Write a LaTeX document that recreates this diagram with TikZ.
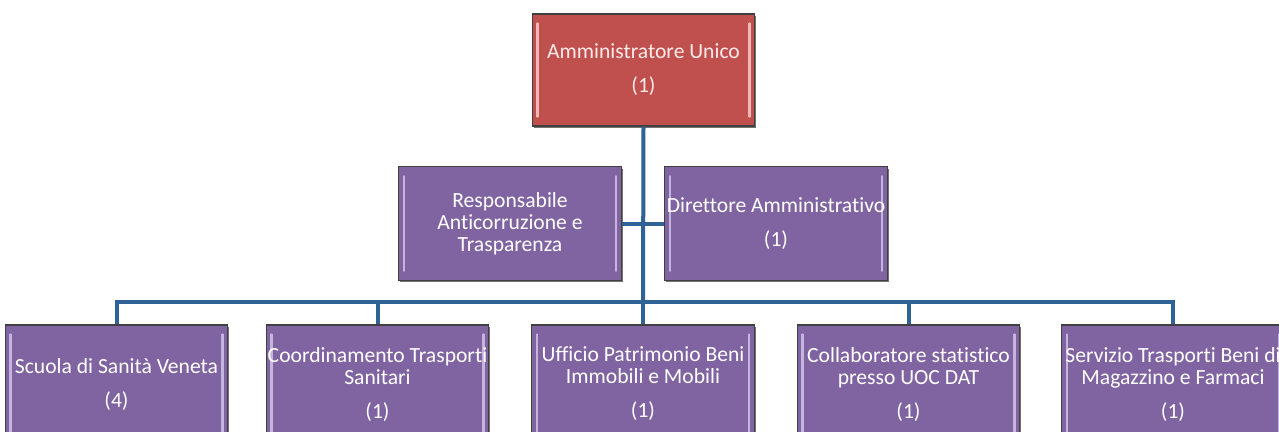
\documentclass[tikz,border=0pt]{standalone}
\usepackage{fontspec}
\setmainfont{Carlito}[Ligatures=NoCommon]
\usetikzlibrary{shadows}

\definecolor{unitpurple}{HTML}{8064A2}
\definecolor{unitlight}{HTML}{C4B4DE}
\definecolor{headred}{HTML}{C0504D}
\definecolor{headlight}{HTML}{F2B8B6}
\definecolor{linkblue}{HTML}{2F6296}

\tikzset{
  bevel/.style={path picture={
      \draw[line width=1.6pt,draw=#1,line cap=round]
        ([shift={(4pt,-7pt)}]path picture bounding box.north west) --
        ([shift={(4pt,7pt)}]path picture bounding box.south west);
      \draw[line width=1.6pt,draw=#1,line cap=round]
        ([shift={(-4pt,-7pt)}]path picture bounding box.north east) --
        ([shift={(-4pt,7pt)}]path picture bounding box.south east);
  }},
  unitbox/.style={rectangle,draw=black!75,line width=0.8pt,fill=unitpurple,
    bevel=unitlight,text=white,align=center,inner sep=0pt,
    font=\fontsize{16.2}{16.5}\selectfont,minimum width=167pt,minimum height=85pt,
    drop shadow={shadow xshift=1.2pt,shadow yshift=-1.5pt,opacity=0.55,fill=black}},
  headbox/.style={unitbox,fill=headred,bevel=headlight,text=white!92!red,minimum height=84pt},
  lowbox/.style={unitbox,minimum height=88.5pt},
  link/.style={draw=linkblue,line width=3pt},
}

\begin{document}
\begin{tikzpicture}[x=0.75pt,y=-0.75pt]
  \useasboundingbox (0,0) rectangle (1279,432);
  \clip (0,0) rectangle (1279,432);

  % top of the chart
  \node[headbox] (head) at (643.5,70) {Amministratore Unico\\[9pt](1)};

  % staff units beside the trunk
  \node[unitbox] (resp) at (510,223.5) {Responsabile\\Anticorruzione e\\Trasparenza};
  \node[unitbox] (dir) at (776,223.5) {Direttore Amministrativo\\[9pt](1)};

  % operating units
  \node[lowbox] (scuola) at (116.5,384) {Scuola di Sanità Veneta\\[9pt](4)};
  \node[lowbox] (coord) at (377.5,384) {Coordinamento Trasporti\\Sanitari\\[9pt](1)};
  \node[lowbox] (ufficio) at (643,384) {Ufficio Patrimonio Beni\\Immobili e Mobili\\[9pt](1)};
  \node[lowbox] (collab) at (908.5,384) {Collaboratore statistico\\presso UOC DAT\\[9pt](1)};
  \node[lowbox] (servizio) at (1173,384) {Servizio Trasporti Beni di\\Magazzino e Farmaci\\[9pt](1)};

  \coordinate (bar) at (643,302);

  \draw[link] (head.south) -- (bar);
  \draw[link] (resp.east) -- (dir.west);
  \draw[link] (scuola.north) |- (servizio.north |- bar) -- (servizio.north);
  \foreach \u in {coord,ufficio,collab}
    \draw[link] (\u.north) -- (\u.north |- bar);
\end{tikzpicture}
\end{document}
